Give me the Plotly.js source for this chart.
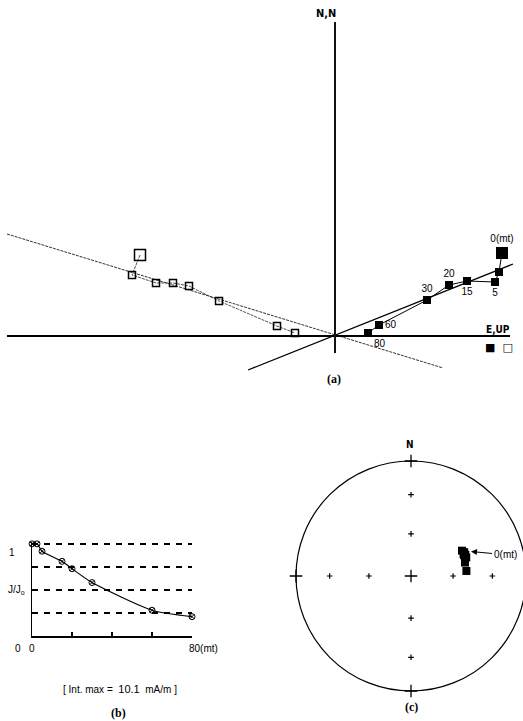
<!DOCTYPE html>
<html>
<head>
<meta charset="utf-8">
<script src="https://cdn.plot.ly/plotly-3.0.1.min.js"></script>
<style>
  html, body { margin: 0; padding: 0; background: #fff; }
  #graph { width: 523px; height: 721px; }
</style>
</head>
<body>
<div id="graph"></div>
<script>
// demagnetisation steps (mT)
const steps = [0, 2.5, 5, 15, 20, 30, 60, 80];
const stepLabels = ['0(mt)', '', '5', '15', '20', '30', '60', '80'];

// (a) Zijderveld plot, arbitrary units
const horizE = [16.7, 16.4, 16.0, 13.2, 11.4, 9.2, 4.4, 3.3];
const horizN = [8.3, 6.4, 5.4, 5.5, 5.1, 3.6, 1.1, 0.3];
const vertE = [-19.5, -20.3, -17.9, -16.2, -14.6, -11.6, -5.8, -4.0];
const vertUp = [8.1, 6.1, 5.3, 5.3, 5.0, 3.5, 1.0, 0.3];
const fitHorizE = [-8.7, 17.8];
const fitHorizN = [-3.4, 7.2];
const fitVertE = [-32.8, 10.8];
const fitVertUp = [10.2, -3.2];
const axisE = [-32.8, 17.5];
const axisN = [-1.7, 31.4];

// (b) intensity decay J/Jo
const jRatio = [1.0, 1.0, 0.92, 0.81, 0.73, 0.58, 0.28, 0.21];
const jGrid = [0.25, 0.5, 0.75, 1];

// (c) equal-area net, directions (degrees)
const decl = [63.6, 68.7, 71.4, 67.4, 65.9, 68.6, 76.0, 84.8];
const incl = [49, 48, 48, 49, 48, 49, 50, 50];
const netIncl = [60, 30]; // small crosses on the net

const W = 523, H = 721;
const pxX = x => x / W;
const pxY = y => 1 - y / H;

// equal area projection, lower hemisphere
function eqArea(dec, inc) {
    const r = Math.SQRT2 * Math.sin((90 - inc) / 2 * Math.PI / 180);
    const d = dec * Math.PI / 180;
    return [r * Math.sin(d), r * Math.cos(d)];
}

const stereoX = [], stereoY = [];
decl.forEach((d, i) => {
    const p = eqArea(d, incl[i]);
    stereoX.push(p[0]);
    stereoY.push(p[1]);
});

// net crosses
const smallX = [], smallY = [];
netIncl.forEach(inc => {
    [0, 90, 180, 270].forEach(az => {
        const p = eqArea(az, inc);
        smallX.push(p[0]);
        smallY.push(p[1]);
    });
});
const bigX = [0], bigY = [0];
[0, 90, 180, 270].forEach(az => {
    const p = eqArea(az, 0);
    bigX.push(p[0]);
    bigY.push(p[1]);
});

const labelFont = { family: 'Liberation Sans, Arial, sans-serif', size: 10, color: '#000' };
const textPos = ['top center', 'middle right', 'bottom center', 'bottom center',
                 'top center', 'top center', 'middle right', 'bottom right'];

const traces = [
    {   // fit line, vertical projection
        x: fitVertE, y: fitVertUp, mode: 'lines', xaxis: 'x', yaxis: 'y',
        line: { color: '#333', width: 1, dash: '3px,1px' }
    },
    {   // fit line, horizontal projection
        x: fitHorizE, y: fitHorizN, mode: 'lines', xaxis: 'x', yaxis: 'y',
        line: { color: '#000', width: 1.3 }
    },
    {   // vertical projection (open squares)
        x: vertE, y: vertUp, mode: 'lines+markers', xaxis: 'x', yaxis: 'y',
        line: { color: '#222', width: 0.8, dash: '3px,1px' },
        marker: { symbol: 'square-open', size: steps.map((s, i) => i === 0 ? 11 : 7),
                  opacity: 1, color: '#000', line: { width: 1.5 } },
        cliponaxis: false
    },
    {   // horizontal projection (filled squares)
        x: horizE, y: horizN, mode: 'lines+markers+text', xaxis: 'x', yaxis: 'y',
        text: stepLabels, textposition: textPos, textfont: labelFont,
        line: { color: '#000', width: 1 },
        marker: { symbol: 'square', size: steps.map((s, i) => i === 0 ? 12 : 8),
                  opacity: 1, color: '#000', line: { width: 0 } },
        cliponaxis: false
    },
    {   // J/Jo curve
        x: steps, y: jRatio, mode: 'lines+markers', xaxis: 'x2', yaxis: 'y2',
        line: { color: '#000', width: 1.2, shape: 'spline', smoothing: 0.6 },
        marker: { symbol: 'circle-x-open', size: 6, color: '#000', line: { width: 1 } },
        cliponaxis: false
    },
    {   // net crosses small
        x: smallX, y: smallY, mode: 'markers', xaxis: 'x3', yaxis: 'y3',
        marker: { symbol: 'cross-thin-open', size: 4, color: '#000', line: { width: 1.2, color: '#000' } }
    },
    {   // net crosses big
        x: bigX, y: bigY, mode: 'markers', xaxis: 'x3', yaxis: 'y3',
        marker: { symbol: 'cross-thin-open', size: 9, color: '#000', line: { width: 1.3, color: '#000' } },
        cliponaxis: false
    },
    {   // directions
        x: stereoX, y: stereoY, mode: 'markers', xaxis: 'x3', yaxis: 'y3',
        marker: { symbol: 'square', size: 8, color: '#000' }
    }
];

const hidden = { visible: false, fixedrange: true };

const layout = {
    width: W, height: H,
    margin: { l: 0, r: 0, t: 0, b: 0 },
    paper_bgcolor: '#fff', plot_bgcolor: 'rgba(0,0,0,0)',
    showlegend: false,
    font: labelFont,
    xaxis: Object.assign({ domain: [0, 1], range: [-33.5, 18.8] }, hidden),
    yaxis: Object.assign({ domain: [pxY(400), 1], range: [-6.4, 33.6] }, hidden),
    xaxis2: {
        domain: [pxX(32), pxX(192)], range: [0, 80], anchor: 'y2',
        showline: true, linecolor: '#000', linewidth: 1.5,
        showgrid: false, zeroline: false,
        ticks: 'inside', tickvals: [20, 40, 60, 80], ticklen: 4, tickwidth: 1.5, tickcolor: '#000',
        showticklabels: false
    },
    yaxis2: {
        domain: [pxY(636), pxY(542)], range: [0, 1.02], anchor: 'x2',
        showline: true, linecolor: '#000', linewidth: 1.5,
        zeroline: false, ticks: '', tickvals: jGrid, showticklabels: false,
        showgrid: true, gridcolor: '#000', gridwidth: 1.5, griddash: '6px,6px'
    },
    xaxis3: Object.assign({ domain: [pxX(281), 1], range: [-130 / 115, 112 / 115], anchor: 'y3' }, hidden),
    yaxis3: Object.assign({ domain: [pxY(706), pxY(446)], range: [-130 / 115, 130 / 115], anchor: 'x3' }, hidden),
    shapes: [
        { type: 'line', xref: 'x', yref: 'y', x0: axisE[0], x1: axisE[1], y0: 0, y1: 0,
          line: { color: '#000', width: 2 } },
        { type: 'line', xref: 'x', yref: 'y', x0: 0, x1: 0, y0: axisN[0], y1: axisN[1],
          line: { color: '#111', width: 2 } },
        { type: 'circle', xref: 'x3', yref: 'y3', x0: -1, x1: 1, y0: -1, y1: 1,
          line: { color: '#000', width: 1.2 } }
    ],
    annotations: [
        { text: '<b>N,N</b>', x: pxX(326), y: pxY(14),
          font: { family: 'DejaVu Sans Condensed, sans-serif', size: 11 } },
        { text: '<b>E,UP</b>', x: pxX(498), y: pxY(329),
          font: { family: 'DejaVu Sans Condensed, sans-serif', size: 10 } },
        { text: '■  □', x: pxX(499), y: pxY(347),
          font: { family: 'DejaVu Sans, sans-serif', size: 11 } },
        { text: '<b>(a)</b>', x: pxX(334), y: pxY(379),
          font: { family: 'Liberation Serif, serif', size: 12 } },
        { text: '1', x: pxX(12), y: pxY(552) },
        { text: 'J/J<sub>o</sub>', x: pxX(16), y: pxY(590), font: { size: 10 } },
        { text: '0', x: pxX(18), y: pxY(648) },
        { text: '0', x: pxX(32), y: pxY(648) },
        { text: '80(mt)', x: pxX(203), y: pxY(648) },
        { text: '[ Int. max =  <span style="font-size:11px">10.1</span>  mA/m ]',
          x: pxX(120), y: pxY(689), font: { size: 10 } },
        { text: '<b>(b)</b>', x: pxX(118), y: pxY(713),
          font: { family: 'Liberation Serif, serif', size: 12 } },
        { text: '<b>N</b>', x: pxX(410), y: pxY(445),
          font: { family: 'DejaVu Sans Condensed, sans-serif', size: 10 } },
        { text: '<b>(c)</b>', x: pxX(411), y: pxY(707),
          font: { family: 'Liberation Serif, serif', size: 12 } },
        {   // arrow to the 0 mT direction
            text: '0(mt)', xref: 'x3', yref: 'y3', x: stereoX[0], y: stereoY[0],
            showarrow: true, ax: 43, ay: 4, arrowhead: 2, arrowsize: 1.2, arrowwidth: 1,
            standoff: 9, arrowcolor: '#000', font: { size: 10 }
        }
    ]
};
// paper annotations: centred on the given point
layout.annotations.forEach(a => {
    if (!a.xref) {
        a.xref = 'paper'; a.yref = 'paper'; a.showarrow = false;
        a.xanchor = 'center'; a.yanchor = 'middle';
    }
    a.font = Object.assign({}, labelFont, a.font || {});
});

Plotly.newPlot('graph', traces, layout, { staticPlot: true });
</script>
</body>
</html>
